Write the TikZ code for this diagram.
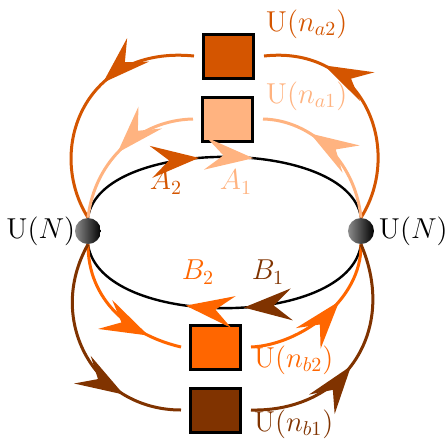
\documentclass[tikz,border=0pt]{standalone}
\usetikzlibrary{arrows.meta,decorations.markings,calc}
\definecolor{cAtwo}{RGB}{212,85,0}
\definecolor{cAone}{RGB}{255,179,128}
\definecolor{cBtwo}{RGB}{255,102,0}
\definecolor{cBone}{RGB}{128,51,0}
\begin{document}
\begin{tikzpicture}[x=0.5pt,y=0.5pt,yscale=-1,xscale=1,
  font=\fontsize{14}{17}\selectfont,
  ball/.style={circle,minimum size=13pt,inner sep=0pt,left color=black!45,right color=black},
  gauge/.style={draw=black,line width=1.5pt,minimum width=25pt,minimum height=22pt,inner sep=0pt,outer sep=5pt},
  quiver/.style={line width=1.5pt},
  marrow/.style 2 args={postaction={decorate,decoration={markings,mark=at position #1 with {\arrow{Stealth[length=24pt,width=16pt,inset=9pt,color=#2]}}}}}
]
\useasboundingbox (0,0) rectangle (446,441);

% gauge nodes
\node[ball] (L) at (88,231) {};
\node[ball] (R) at (361,231) {};
\node[gauge,fill=cAtwo] (sqA2) at (229,56) {};
\node[gauge,fill=cAone] (sqA1) at (228,119) {};
\node[gauge,fill=cBtwo] (sqB2) at (216,347) {};
\node[gauge,fill=cBone] (sqB1) at (216,410) {};

% bifundamentals A and B
\draw [line width=1.2pt, marrow={0.42}{cAtwo}, marrow={0.59}{cAone}] (L.north) .. controls ($(L.north)+(12,-81)$) and ($(R.north)+(-12,-81)$) .. (R.north);
\draw [line width=1.2pt, marrow={0.44}{cBone}, marrow={0.62}{cBtwo}] (R.south) .. controls ($(R.south)+(-12,85)$) and ($(L.south)+(12,85)$) .. (L.south);

% flavour arcs, upper
\draw [quiver,cAtwo,marrow={0.40}{cAtwo}] (sqA2.west) .. controls ($(sqA2.west)+(-109,-11)$) and ($(L.north)+(-43,-68)$) .. (L.north);
\draw [quiver,cAtwo,marrow={0.74}{cAtwo}] (R.north) .. controls ($(R.north)+(43,-68)$) and ($(sqA2.east)+(100,-11)$) .. (sqA2.east);
\draw [quiver,cAone,marrow={0.54}{cAone}] (sqA1.west) .. controls ($(sqA1.west)+(-53,1)$) and ($(L.north)+(7,-58)$) .. (L.north);
\draw [quiver,cAone,marrow={0.67}{cAone}] (R.north) .. controls ($(R.north)+(-6,-58)$) and ($(sqA1.east)+(47,1)$) .. (sqA1.east);

% flavour arcs, lower
\draw [quiver,cBtwo,marrow={0.77}{cBtwo}] (L.south) .. controls ($(L.south)+(0,56)$) and ($(sqB2.west)+(-51,-12)$) .. (sqB2.west);
\draw [quiver,cBtwo,marrow={0.62}{cBtwo}] (sqB2.east) .. controls ($(sqB2.east)+(49,-2)$) and ($(R.south)+(1,56)$) .. (R.south);
\draw [quiver,cBone,marrow={0.74}{cBone}] (L.south) .. controls ($(L.south)+(-43,76)$) and ($(sqB1.west)+(-86,0)$) .. (sqB1.west);
\draw [quiver,cBone,marrow={0.47}{cBone}] (sqB1.east) .. controls ($(sqB1.east)+(94,2)$) and ($(R.south)+(37,86)$) .. (R.south);

% Text Nodes
\node [anchor=east,inner sep=0.75pt] (labL) at (77,231) {$\mathrm{U}(N)$};
\node [anchor=west,inner sep=0.75pt] (labR) at (377,231) {$\mathrm{U}(N)$};
\node [anchor=west,inner sep=0.75pt,text=cAtwo] (labA2) at (264,24) {$\mathrm{U}(n_{a2})$};
\node [anchor=west,inner sep=0.75pt,text=cAone] (labA1) at (264,96) {$\mathrm{U}(n_{a1})$};
\node [anchor=west,inner sep=0.75pt,text=cBtwo] (labB2) at (252,360) {$\mathrm{U}(n_{b2})$};
\node [anchor=west,inner sep=0.75pt,text=cBone] (labB1) at (252,424) {$\mathrm{U}(n_{b1})$};
\node [inner sep=0.75pt,text=cAtwo] (fA2) at (166,182) {$A_2$};
\node [inner sep=0.75pt,text=cAone] (fA1) at (236,182) {$A_1$};
\node [inner sep=0.75pt,text=cBtwo] (fB2) at (198,272) {$B_2$};
\node [inner sep=0.75pt,text=cBone] (fB1) at (268,272) {$B_1$};
\end{tikzpicture}
\end{document}
